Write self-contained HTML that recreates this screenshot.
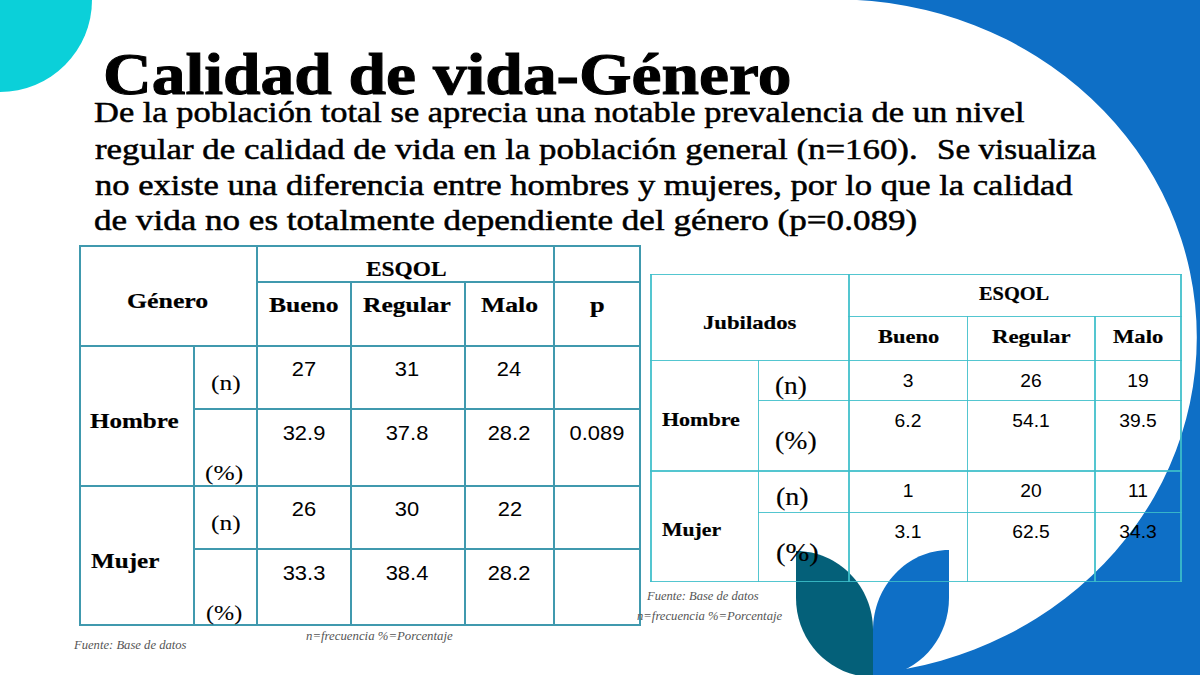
<!DOCTYPE html>
<html><head><meta charset="utf-8">
<style>
html,body{margin:0;padding:0;}
body{width:1200px;height:675px;position:relative;overflow:hidden;background:#0E6FC6;font-family:"Liberation Serif",serif;color:#000;}
.a{position:absolute;left:0;top:0;}
.t{position:absolute;white-space:pre;line-height:1;transform-origin:0 0;}
.ln{position:absolute;}
</style></head><body>
<svg class="a" width="1200" height="675">
<path d="M0 -0.55 H836.4 A360.4 337.9 0 0 1 836.4 675.25 V676 H0 Z" fill="#fff"/>
<rect x="0" y="660" width="873" height="15" fill="#fff"/>
<circle cx="0" cy="0" r="92" fill="#0BD0D9"/>
<path d="M796 551 C838.5 551 873 586.4 873 630 L873 677 C830.5 677 796 641.6 796 598 Z" fill="#046079"/>
<path d="M949 550 L949 598 C949 641.6 915.0 677 873 677 L873 630 C873 586.4 907.0 550 949 550 Z" fill="#0E6FC6"/>
</svg>
<div id="grid">
<div class="ln" style="left:79.00px;top:245.00px;width:561.80px;height:2px;background:#4099AE"></div>
<div class="ln" style="left:256.30px;top:281.20px;width:384.50px;height:2px;background:#4099AE"></div>
<div class="ln" style="left:79.00px;top:344.80px;width:561.80px;height:2px;background:#4099AE"></div>
<div class="ln" style="left:193.30px;top:408.20px;width:447.50px;height:2px;background:#4099AE"></div>
<div class="ln" style="left:79.00px;top:485.00px;width:561.80px;height:2px;background:#4099AE"></div>
<div class="ln" style="left:193.30px;top:548.00px;width:447.50px;height:2px;background:#4099AE"></div>
<div class="ln" style="left:79.00px;top:624.30px;width:561.80px;height:2px;background:#4099AE"></div>
<div class="ln" style="left:79.00px;top:245.00px;width:2px;height:381.30px;background:#4099AE"></div>
<div class="ln" style="left:193.30px;top:344.80px;width:2px;height:281.50px;background:#4099AE"></div>
<div class="ln" style="left:256.30px;top:245.00px;width:2px;height:381.30px;background:#4099AE"></div>
<div class="ln" style="left:349.80px;top:281.20px;width:2px;height:345.10px;background:#4099AE"></div>
<div class="ln" style="left:463.50px;top:281.20px;width:2px;height:345.10px;background:#4099AE"></div>
<div class="ln" style="left:553.40px;top:245.00px;width:2px;height:381.30px;background:#4099AE"></div>
<div class="ln" style="left:638.80px;top:245.00px;width:2px;height:381.30px;background:#4099AE"></div>
<div class="ln" style="left:650.20px;top:273.50px;width:531.60px;height:1.6px;background:rgba(60,190,202,0.88)"></div>
<div class="ln" style="left:848.00px;top:315.90px;width:333.80px;height:1.6px;background:rgba(60,190,202,0.88)"></div>
<div class="ln" style="left:650.20px;top:359.70px;width:531.60px;height:1.6px;background:rgba(60,190,202,0.88)"></div>
<div class="ln" style="left:757.60px;top:399.80px;width:424.20px;height:1.6px;background:rgba(60,190,202,0.88)"></div>
<div class="ln" style="left:650.20px;top:470.20px;width:531.60px;height:1.6px;background:rgba(60,190,202,0.88)"></div>
<div class="ln" style="left:757.60px;top:511.70px;width:424.20px;height:1.6px;background:rgba(60,190,202,0.88)"></div>
<div class="ln" style="left:650.20px;top:580.70px;width:531.60px;height:1.6px;background:rgba(60,190,202,0.88)"></div>
<div class="ln" style="left:650.20px;top:273.50px;width:1.6px;height:308.80px;background:rgba(60,190,202,0.88)"></div>
<div class="ln" style="left:757.60px;top:359.70px;width:1.6px;height:222.60px;background:rgba(60,190,202,0.88)"></div>
<div class="ln" style="left:848.00px;top:273.50px;width:1.6px;height:308.80px;background:rgba(60,190,202,0.88)"></div>
<div class="ln" style="left:966.70px;top:315.90px;width:1.6px;height:266.40px;background:rgba(60,190,202,0.88)"></div>
<div class="ln" style="left:1094.00px;top:315.90px;width:1.6px;height:266.40px;background:rgba(60,190,202,0.88)"></div>
<div class="ln" style="left:1180.20px;top:273.50px;width:1.6px;height:308.80px;background:rgba(60,190,202,0.88)"></div>
</div>
<div class="t" id="title" style="left:102.94px;top:44.59px;font-size:59px;font-weight:bold;-webkit-text-stroke:1.0px currentColor;transform:scaleX(1.1434);">Calidad de vida-Género</div>
<div class="t" id="b1" style="left:94.41px;top:98.21px;font-size:29px;-webkit-text-stroke:0.5px currentColor;transform:scaleX(1.1878);">De la población total se aprecia una notable prevalencia de un nivel</div>
<div class="t" id="b2" style="left:95.42px;top:135.21px;font-size:29px;-webkit-text-stroke:0.5px currentColor;transform:scaleX(1.2015);">regular de calidad de vida en la población general (n=160).</div>
<div class="t" id="b2b" style="left:937.45px;top:135.21px;font-size:29px;-webkit-text-stroke:0.5px currentColor;transform:scaleX(1.1418);">Se visualiza</div>
<div class="t" id="b3" style="left:95.40px;top:171.41px;font-size:29px;-webkit-text-stroke:0.5px currentColor;transform:scaleX(1.1913);">no existe una diferencia entre hombres y mujeres, por lo que la calidad</div>
<div class="t" id="b4" style="left:94.38px;top:206.01px;font-size:29px;-webkit-text-stroke:0.5px currentColor;transform:scaleX(1.2093);">de vida no es totalmente dependiente del género (p=0.089)</div>
<div class="t" id="lgen" style="left:127.34px;top:289.66px;font-size:21.9px;font-weight:bold;-webkit-text-stroke:0.2px currentColor;transform:scaleX(1.1793);">Género</div>
<div class="t" id="lesq" style="left:366.00px;top:258.16px;font-size:21.9px;font-weight:bold;-webkit-text-stroke:0.2px currentColor;transform:scaleX(1.0667);">ESQOL</div>
<div class="t" id="lbue" style="left:269.48px;top:294.46px;font-size:21.9px;font-weight:bold;-webkit-text-stroke:0.2px currentColor;transform:scaleX(1.1677);">Bueno</div>
<div class="t" id="lreg" style="left:363.47px;top:294.16px;font-size:21.9px;font-weight:bold;-webkit-text-stroke:0.2px currentColor;transform:scaleX(1.1655);">Regular</div>
<div class="t" id="lmal" style="left:481.18px;top:294.16px;font-size:21.9px;font-weight:bold;-webkit-text-stroke:0.2px currentColor;transform:scaleX(1.1742);">Malo</div>
<div class="t" id="lp" style="left:590.00px;top:294.16px;font-size:21.9px;font-weight:bold;-webkit-text-stroke:0.2px currentColor;transform:scaleX(1.2062);">p</div>
<div class="t" id="lhom" style="left:90.38px;top:409.96px;font-size:21.9px;font-weight:bold;-webkit-text-stroke:0.2px currentColor;transform:scaleX(1.1436);">Hombre</div>
<div class="t" id="lmuj" style="left:90.80px;top:549.86px;font-size:21.9px;font-weight:bold;-webkit-text-stroke:0.2px currentColor;transform:scaleX(1.1473);">Mujer</div>
<div class="t" id="ln1" style="left:210.98px;top:373.20px;font-size:20.3px;-webkit-text-stroke:0.05px currentColor;transform:scaleX(1.2561);">(n)</div>
<div class="t" id="lp1" style="left:204.78px;top:462.70px;font-size:20.3px;-webkit-text-stroke:0.05px currentColor;transform:scaleX(1.2540);">(%)</div>
<div class="t" id="ln2" style="left:211.06px;top:512.90px;font-size:20.3px;-webkit-text-stroke:0.05px currentColor;transform:scaleX(1.2544);">(n)</div>
<div class="t" id="lp2" style="left:205.75px;top:603.40px;font-size:20.3px;-webkit-text-stroke:0.05px currentColor;transform:scaleX(1.1910);">(%)</div>
<div class="t" id="lv00" style="left:304.45px;top:359.32px;font-size:20.3px;font-family:'Liberation Sans',sans-serif;transform:translateX(-50%) scaleX(1.0800);transform-origin:50% 0;">27</div>
<div class="t" id="lv01" style="left:407.35px;top:359.32px;font-size:20.3px;font-family:'Liberation Sans',sans-serif;transform:translateX(-50%) scaleX(1.0800);transform-origin:50% 0;">31</div>
<div class="t" id="lv02" style="left:509.05px;top:359.32px;font-size:20.3px;font-family:'Liberation Sans',sans-serif;transform:translateX(-50%) scaleX(1.0800);transform-origin:50% 0;">24</div>
<div class="t" id="lv10" style="left:303.95px;top:422.52px;font-size:20.3px;font-family:'Liberation Sans',sans-serif;transform:translateX(-50%) scaleX(1.0800);transform-origin:50% 0;">32.9</div>
<div class="t" id="lv11" style="left:407.35px;top:422.52px;font-size:20.3px;font-family:'Liberation Sans',sans-serif;transform:translateX(-50%) scaleX(1.0800);transform-origin:50% 0;">37.8</div>
<div class="t" id="lv12" style="left:509.05px;top:422.52px;font-size:20.3px;font-family:'Liberation Sans',sans-serif;transform:translateX(-50%) scaleX(1.0800);transform-origin:50% 0;">28.2</div>
<div class="t" id="lv13" style="left:596.90px;top:422.52px;font-size:20.3px;font-family:'Liberation Sans',sans-serif;transform:translateX(-50%) scaleX(1.0800);transform-origin:50% 0;">0.089</div>
<div class="t" id="lv20" style="left:303.95px;top:499.02px;font-size:20.3px;font-family:'Liberation Sans',sans-serif;transform:translateX(-50%) scaleX(1.0800);transform-origin:50% 0;">26</div>
<div class="t" id="lv21" style="left:406.85px;top:499.02px;font-size:20.3px;font-family:'Liberation Sans',sans-serif;transform:translateX(-50%) scaleX(1.0800);transform-origin:50% 0;">30</div>
<div class="t" id="lv22" style="left:509.55px;top:499.02px;font-size:20.3px;font-family:'Liberation Sans',sans-serif;transform:translateX(-50%) scaleX(1.0800);transform-origin:50% 0;">22</div>
<div class="t" id="lv30" style="left:303.95px;top:562.52px;font-size:20.3px;font-family:'Liberation Sans',sans-serif;transform:translateX(-50%) scaleX(1.0800);transform-origin:50% 0;">33.3</div>
<div class="t" id="lv31" style="left:407.35px;top:562.52px;font-size:20.3px;font-family:'Liberation Sans',sans-serif;transform:translateX(-50%) scaleX(1.0800);transform-origin:50% 0;">38.4</div>
<div class="t" id="lv32" style="left:509.05px;top:562.52px;font-size:20.3px;font-family:'Liberation Sans',sans-serif;transform:translateX(-50%) scaleX(1.0800);transform-origin:50% 0;">28.2</div>
<div class="t" id="resq" style="left:979.32px;top:284.45px;font-size:19.4px;font-weight:bold;-webkit-text-stroke:0.2px currentColor;transform:scaleX(1.0507);">ESQOL</div>
<div class="t" id="rjub" style="left:702.67px;top:313.05px;font-size:19.4px;font-weight:bold;-webkit-text-stroke:0.2px currentColor;transform:scaleX(1.1709);">Jubilados</div>
<div class="t" id="rbue" style="left:878.00px;top:327.05px;font-size:19.4px;font-weight:bold;-webkit-text-stroke:0.2px currentColor;transform:scaleX(1.1589);">Bueno</div>
<div class="t" id="rreg" style="left:991.82px;top:326.65px;font-size:19.4px;font-weight:bold;-webkit-text-stroke:0.2px currentColor;transform:scaleX(1.1769);">Regular</div>
<div class="t" id="rmal" style="left:1113.19px;top:326.75px;font-size:19.4px;font-weight:bold;-webkit-text-stroke:0.2px currentColor;transform:scaleX(1.1667);">Malo</div>
<div class="t" id="rhom" style="left:662.00px;top:409.55px;font-size:19.4px;font-weight:bold;-webkit-text-stroke:0.2px currentColor;transform:scaleX(1.1349);">Hombre</div>
<div class="t" id="rmuj" style="left:662.00px;top:520.25px;font-size:19.4px;font-weight:bold;-webkit-text-stroke:0.2px currentColor;transform:scaleX(1.1203);">Mujer</div>
<div class="t" id="rn1" style="left:775.30px;top:374.23px;font-size:24.8px;-webkit-text-stroke:0.15px currentColor;transform:scaleX(1.0992);">(n)</div>
<div class="t" id="rp1" style="left:775.30px;top:429.23px;font-size:24.8px;-webkit-text-stroke:0.15px currentColor;transform:scaleX(1.1200);">(%)</div>
<div class="t" id="rn2" style="left:775.70px;top:484.73px;font-size:24.8px;-webkit-text-stroke:0.15px currentColor;transform:scaleX(1.1285);">(n)</div>
<div class="t" id="rp2" style="left:775.67px;top:540.73px;font-size:24.8px;-webkit-text-stroke:0.15px currentColor;transform:scaleX(1.1539);">(%)</div>
<div class="t" id="rv00" style="left:907.85px;top:372.89px;font-size:17.5px;font-family:'Liberation Sans',sans-serif;transform:translateX(-50%) scaleX(1.1000);transform-origin:50% 0;">3</div>
<div class="t" id="rv01" style="left:1031.35px;top:372.89px;font-size:17.5px;font-family:'Liberation Sans',sans-serif;transform:translateX(-50%) scaleX(1.1000);transform-origin:50% 0;">26</div>
<div class="t" id="rv02" style="left:1137.60px;top:372.89px;font-size:17.5px;font-family:'Liberation Sans',sans-serif;transform:translateX(-50%) scaleX(1.1000);transform-origin:50% 0;">19</div>
<div class="t" id="rv10" style="left:907.85px;top:412.89px;font-size:17.5px;font-family:'Liberation Sans',sans-serif;transform:translateX(-50%) scaleX(1.1000);transform-origin:50% 0;">6.2</div>
<div class="t" id="rv11" style="left:1030.85px;top:412.89px;font-size:17.5px;font-family:'Liberation Sans',sans-serif;transform:translateX(-50%) scaleX(1.1000);transform-origin:50% 0;">54.1</div>
<div class="t" id="rv12" style="left:1138.10px;top:412.89px;font-size:17.5px;font-family:'Liberation Sans',sans-serif;transform:translateX(-50%) scaleX(1.1000);transform-origin:50% 0;">39.5</div>
<div class="t" id="rv20" style="left:907.85px;top:482.69px;font-size:17.5px;font-family:'Liberation Sans',sans-serif;transform:translateX(-50%) scaleX(1.1000);transform-origin:50% 0;">1</div>
<div class="t" id="rv21" style="left:1030.85px;top:482.69px;font-size:17.5px;font-family:'Liberation Sans',sans-serif;transform:translateX(-50%) scaleX(1.1000);transform-origin:50% 0;">20</div>
<div class="t" id="rv22" style="left:1138.10px;top:482.69px;font-size:17.5px;font-family:'Liberation Sans',sans-serif;transform:translateX(-50%) scaleX(1.1000);transform-origin:50% 0;">11</div>
<div class="t" id="rv30" style="left:907.85px;top:524.19px;font-size:17.5px;font-family:'Liberation Sans',sans-serif;transform:translateX(-50%) scaleX(1.1000);transform-origin:50% 0;">3.1</div>
<div class="t" id="rv31" style="left:1030.85px;top:524.19px;font-size:17.5px;font-family:'Liberation Sans',sans-serif;transform:translateX(-50%) scaleX(1.1000);transform-origin:50% 0;">62.5</div>
<div class="t" id="rv32" style="left:1138.10px;top:524.19px;font-size:17.5px;font-family:'Liberation Sans',sans-serif;transform:translateX(-50%) scaleX(1.1000);transform-origin:50% 0;">34.3</div>
<div class="t" id="lf1" style="left:74.29px;top:639.25px;font-size:12.6px;font-style:italic;color:#555;transform:scaleX(1.0020);">Fuente: Base de datos</div>
<div class="t" id="lf2" style="left:305.81px;top:631.00px;font-size:11.7px;font-style:italic;color:#555;transform:scaleX(1.0948);">n=frecuencia %=Porcentaje</div>
<div class="t" id="rf1" style="left:647.30px;top:590.45px;font-size:12.6px;font-style:italic;color:#555;transform:scaleX(0.9947);">Fuente: Base de datos</div>
<div class="t" id="rf2" style="left:636.92px;top:611.00px;font-size:11.7px;font-style:italic;color:#555;transform:scaleX(1.0827);">n=frecuencia %=Porcentaje</div>
</body></html>
